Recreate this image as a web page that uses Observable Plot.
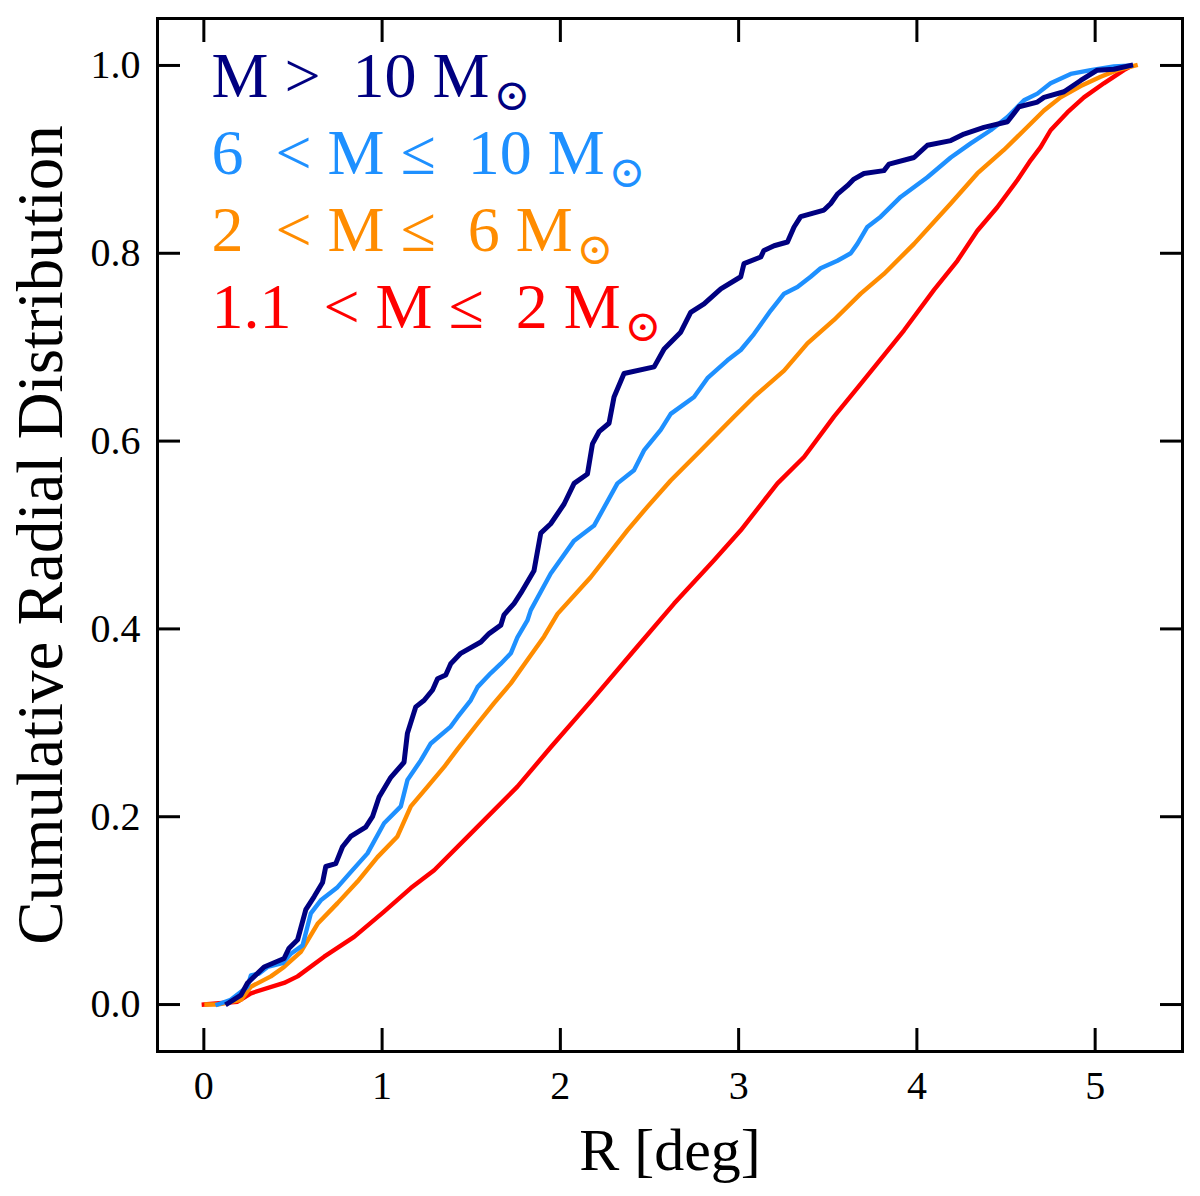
<!DOCTYPE html>
<html>
<head>
<meta charset="utf-8">
<script src="https://cdn.jsdelivr.net/npm/d3@7"></script>
<script src="https://cdn.jsdelivr.net/npm/@observablehq/plot@0.6"></script>
<style>
  body { margin: 0; background: white; }
</style>
</head>
<body>
<div id="chart"></div>
<script>
const xTicks = [0, 1, 2, 3, 4, 5];
const yTicks = [0, 0.2, 0.4, 0.6, 0.8, 1.0];

// legend rows, the solar symbol is added as a subscript afterwards
const legendLabels = [
  "M >\u00A0\u00A010 M",
  "6\u00A0\u00A0< M ≤\u00A0\u00A010 M",
  "2\u00A0\u00A0< M ≤\u00A0\u00A06 M",
  "1.1\u00A0\u00A0< M ≤\u00A0\u00A02 M",
];
const sunSymbol = "⊙";
const binColors = ["#000080", "#1e90ff", "#ff8c00", "#ff0000"];

// [R (deg), cumulative fraction]
const cdfGt10 = [
  [0.133,0.001],[0.208,0.010],[0.245,0.023],[0.338,0.040],[0.450,0.049],[0.478,0.060],
  [0.526,0.069],[0.572,0.101],[0.619,0.115],[0.666,0.130],[0.684,0.147],[0.740,0.150],
  [0.778,0.168],[0.824,0.179],[0.908,0.189],[0.946,0.200],[0.983,0.221],[1.049,0.242],
  [1.123,0.258],[1.142,0.289],[1.189,0.317],[1.236,0.324],[1.283,0.335],[1.311,0.347],
  [1.357,0.351],[1.385,0.363],[1.441,0.374],[1.554,0.386],[1.600,0.395],[1.666,0.404],
  [1.684,0.415],[1.740,0.427],[1.778,0.438],[1.852,0.462],[1.890,0.502],[1.946,0.512],
  [2.021,0.533],[2.077,0.555],[2.152,0.565],[2.180,0.597],[2.217,0.610],[2.273,0.619],
  [2.301,0.647],[2.357,0.672],[2.526,0.679],[2.582,0.698],[2.675,0.716],[2.731,0.737],
  [2.806,0.746],[2.900,0.762],[3.012,0.775],[3.030,0.789],[3.124,0.796],[3.142,0.803],
  [3.199,0.808],[3.274,0.812],[3.311,0.828],[3.348,0.839],[3.479,0.846],[3.517,0.853],
  [3.554,0.863],[3.610,0.872],[3.647,0.879],[3.703,0.885],[3.815,0.888],[3.844,0.895],
  [3.984,0.902],[4.059,0.915],[4.190,0.920],[4.264,0.927],[4.376,0.934],[4.508,0.940],
  [4.573,0.956],[4.676,0.961],[4.713,0.966],[4.825,0.972],[4.919,0.984],[5.012,0.995],
  [5.105,0.996],[5.199,1.000]
];
const cdf6to10 = [
  [0.077,0.000],[0.151,0.005],[0.245,0.019],[0.264,0.031],[0.310,0.033],[0.357,0.040],
  [0.441,0.044],[0.488,0.054],[0.554,0.063],[0.600,0.097],[0.656,0.111],[0.750,0.125],
  [0.824,0.141],[0.918,0.161],[1.011,0.193],[1.105,0.211],[1.142,0.239],[1.217,0.260],
  [1.273,0.278],[1.385,0.296],[1.423,0.306],[1.497,0.324],[1.535,0.338],[1.610,0.353],
  [1.666,0.363],[1.722,0.374],[1.759,0.391],[1.815,0.409],[1.834,0.420],[1.946,0.459],
  [2.077,0.494],[2.189,0.510],[2.227,0.523],[2.320,0.555],[2.413,0.569],[2.469,0.590],
  [2.563,0.612],[2.619,0.629],[2.750,0.647],[2.825,0.667],[2.937,0.686],[3.012,0.697],
  [3.086,0.714],[3.180,0.739],[3.255,0.757],[3.330,0.764],[3.404,0.775],[3.460,0.784],
  [3.554,0.792],[3.629,0.800],[3.666,0.810],[3.722,0.828],[3.797,0.839],[3.909,0.860],
  [4.059,0.881],[4.190,0.902],[4.302,0.917],[4.414,0.931],[4.508,0.945],[4.601,0.963],
  [4.676,0.970],[4.750,0.981],[4.863,0.991],[4.975,0.995],[5.105,0.999],[5.199,1.000]
];
const cdf2to6 = [
  [0.015,0.000],[0.077,0.000],[0.208,0.005],[0.264,0.019],[0.376,0.030],[0.450,0.040],
  [0.544,0.056],[0.638,0.086],[0.750,0.108],[0.862,0.131],[0.974,0.157],[1.086,0.179],
  [1.161,0.211],[1.255,0.232],[1.348,0.253],[1.423,0.272],[1.535,0.299],[1.628,0.321],
  [1.722,0.342],[1.815,0.367],[1.909,0.392],[1.984,0.416],[2.170,0.455],[2.376,0.505],
  [2.488,0.530],[2.619,0.558],[2.787,0.590],[2.974,0.626],[3.086,0.647],[3.255,0.675],
  [3.386,0.704],[3.535,0.729],[3.685,0.757],[3.815,0.778],[3.984,0.810],[4.190,0.853],
  [4.339,0.885],[4.488,0.910],[4.601,0.931],[4.713,0.952],[4.806,0.966],[4.919,0.978],
  [5.031,0.988],[5.124,0.995],[5.227,1.000]
];
const cdf11to2 = [
  [0.000,0.000],[0.189,0.003],[0.264,0.012],[0.450,0.023],[0.526,0.030],[0.675,0.051],
  [0.843,0.072],[1.011,0.099],[1.161,0.124],[1.292,0.143],[1.497,0.182],[1.759,0.232],
  [1.946,0.274],[2.180,0.325],[2.413,0.377],[2.638,0.427],[2.862,0.473],[3.012,0.505],
  [3.218,0.555],[3.367,0.583],[3.535,0.626],[3.685,0.661],[3.928,0.718],[4.096,0.761],
  [4.227,0.792],[4.339,0.824],[4.451,0.849],[4.564,0.878],[4.638,0.899],[4.694,0.913],
  [4.750,0.931],[4.844,0.950],[4.937,0.966],[5.049,0.981],[5.161,0.995],[5.199,0.999]
];

const series = [cdfGt10, cdf6to10, cdf2to6, cdf11to2];
const font = "'Liberation Serif', 'DejaVu Serif', serif";

// drawn lowest mass first so the M > 10 curve sits on top
const lineMarks = [3, 2, 1, 0].map((i) =>
  Plot.line(series[i], {
    x: (d) => d[0],
    y: (d) => d[1],
    stroke: binColors[i],
    strokeWidth: i === 0 ? 5 : 4.4,
    strokeLinejoin: "round",
    strokeLinecap: "square",
  }),
);

const legendMarks = legendLabels.map((t, i) =>
  Plot.text([t], {
    text: (d) => d,
    frameAnchor: "top-left",
    textAnchor: "start",
    lineAnchor: "top",
    dx: 54,
    dy: 33 + 77 * i,
    fontSize: 64,
    fill: binColors[i],
  }),
);

const chart = Plot.plot({
  width: 1200,
  height: 1196,
  marginLeft: 157,
  marginRight: 18,
  marginTop: 18,
  marginBottom: 145,
  x: { domain: [-0.26, 5.49] },
  y: { domain: [-0.05, 1.05] },
  style: { fontFamily: font, background: "white", color: "black" },
  marks: [
    ...lineMarks,
    // inward ticks on all four sides
    Plot.axisX(xTicks, { anchor: "bottom", tickSize: -23, strokeWidth: 3, tickFormat: () => "", label: null }),
    Plot.axisX(xTicks, { anchor: "top", tickSize: -23, strokeWidth: 3, tickFormat: () => "", label: null }),
    Plot.axisY(yTicks, { anchor: "left", tickSize: -23, strokeWidth: 3, tickFormat: () => "", label: null }),
    Plot.axisY(yTicks, { anchor: "right", tickSize: -23, strokeWidth: 3, tickFormat: () => "", label: null }),
    // tick labels
    Plot.axisX(xTicks, { anchor: "bottom", tickSize: 0, tickPadding: 19, fontSize: 40, tickFormat: d3.format("d"), label: null }),
    Plot.axisY(yTicks, { anchor: "left", tickSize: 0, tickPadding: 17, fontSize: 40, tickFormat: d3.format(".1f"), label: null }),
    Plot.frame({ stroke: "black", strokeWidth: 3 }),
    Plot.text(["R [deg]"], { text: (d) => d, frameAnchor: "bottom", lineAnchor: "top", dy: 76, fontSize: 60 }),
    Plot.text(["Cumulative Radial Distribution"], {
      text: (d) => d,
      frameAnchor: "left",
      textAnchor: "middle",
      lineAnchor: "top",
      rotate: -90,
      dx: -142,
      fontSize: 65,
    }),
    ...legendMarks,
  ],
});

// subscript solar symbol after each legend entry
d3.select(chart)
  .selectAll("text")
  .filter(function () { return legendLabels.includes(this.textContent); })
  .append("tspan")
  .attr("dx", 4)
  .attr("dy", 13)
  .attr("font-size", 44)
  .text(sunSymbol);

document.getElementById("chart").appendChild(chart);
</script>
</body>
</html>
